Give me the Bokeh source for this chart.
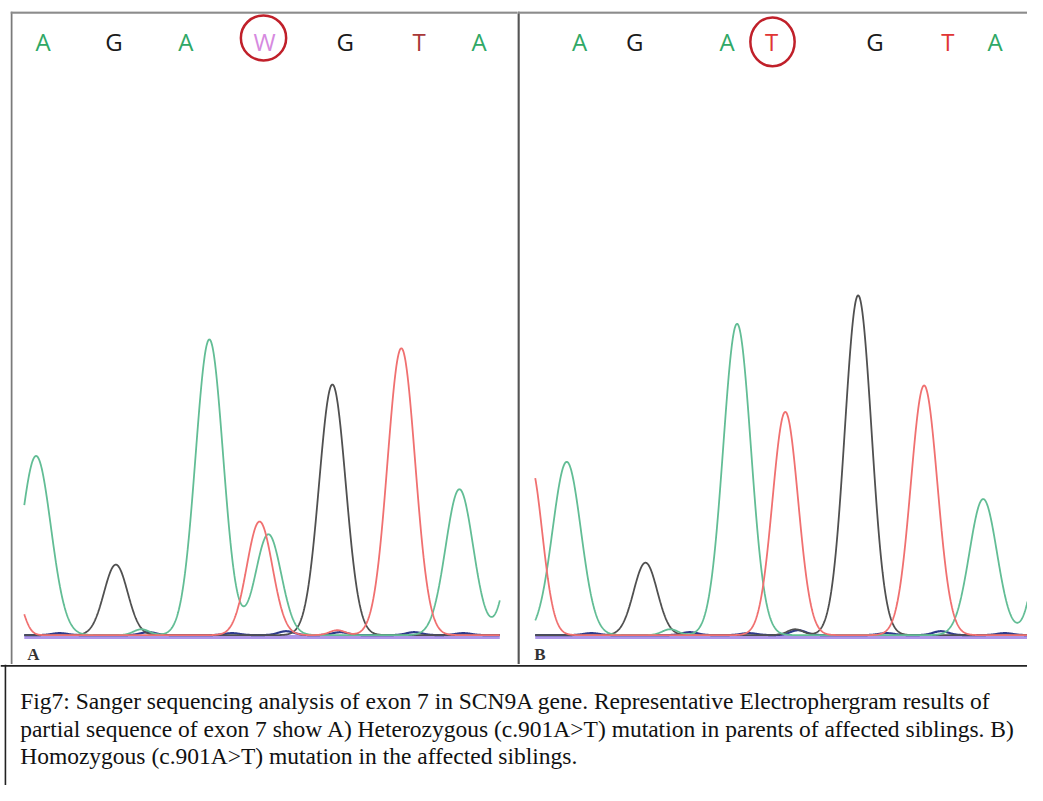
import numpy as np
from bokeh.plotting import figure
from bokeh.layouts import column, row
from bokeh.models import Range1d, Span
from bokeh.core.properties import value
from bokeh.embed import file_html
from bokeh.resources import INLINE

# ---------------- data ----------------
# Panel A: heterozygous parent. Peaks per dye: scan position, signal height, peak sd
A_scan = [24, 507]
A_green_pos = [36, 143, 212, 272, 466, 530]
A_green_hgt = [183, 6, 302, 103, 149, 160]
A_green_sd = [15, 8, 14, 13, 14, 13]
A_red_pos = [15, 263, 342, 407]
A_red_hgt = [40, 116, 5, 293]
A_red_sd = [8, 13, 8, 14]
A_black_pos = [117, 337]
A_black_hgt = [72, 256]
A_black_sd = [12, 13.5]
A_blue_pos = [60, 150, 235, 290, 345, 420, 470]
A_blue_hgt = [2, 3, 2, 4, 3, 3, 2]
A_blue_sd = [8, 8, 8, 8, 8, 8, 8]
A_bases = ["A", "G", "A", "W", "G", "T", "A"]
A_base_pos = [43, 115, 188, 268, 350, 425, 486]
A_mut_pos = 267

# Panel B: homozygous affected sibling
B_scan = [543, 1043]
B_green_pos = [575, 680, 748, 998, 1070]
B_green_hgt = [177, 6, 318, 139, 215]
B_green_sd = [14.4, 8, 14, 14, 14]
B_red_pos = [538, 797, 938]
B_red_hgt = [175, 228, 255]
B_red_sd = [12, 13, 13.5]
B_black_pos = [655, 807, 871]
B_black_hgt = [74, 6, 347]
B_black_sd = [12, 8, 13.5]
B_blue_pos = [600, 700, 760, 810, 900, 955, 1020]
B_blue_hgt = [2, 3, 2, 5, 2, 4, 2]
B_blue_sd = [8, 8, 8, 8, 8, 8, 8]
B_bases = ["A", "G", "A", "T", "G", "T", "A"]
B_base_pos = [588, 644, 738, 783, 888, 962, 1010]
B_mut_pos = 784

caption_lines = [
    "Fig7: Sanger sequencing analysis of exon 7 in SCN9A gene. Representative Electrophergram results of",
    "partial sequence of exon 7 show A) Heterozygous (c.901A>T) mutation in parents of affected siblings. B)",
    "Homozygous (c.901A>T) mutation in the affected siblings.",
]

# ---------------- styles ----------------
TRACE = {"green": "#62bd95", "red": "#f07070", "black": "#505050", "blue": "#2e3a8c"}
LETTER_A = {"A": "#2fa866", "G": "#1a1a1a", "T": "#a83838", "W": "#d68ae0"}
LETTER_B = {"A": "#2fa866", "G": "#1a1a1a", "T": "#e03535", "W": "#d68ae0"}
CIRCLE = "#c0202a"


def trace(xs, pos, hgt, sd):
    xs = np.asarray(xs, dtype=float)
    y = np.zeros_like(xs)
    for c, h, s in zip(pos, hgt, sd):
        y += h * np.exp(-((xs - c) ** 2) / (2.0 * s * s))
    return y


def panel(width, xr, min_left):
    p = figure(width=width, height=664, x_range=Range1d(*xr), y_range=Range1d(-30, 637),
               output_backend="svg", toolbar_location=None,
               x_axis_location=None, y_axis_location=None,
               min_border_left=min_left, min_border_right=0,
               min_border_top=11, min_border_bottom=0)
    p.grid.visible = False
    p.outline_line_color = None
    p.background_fill_color = "white"
    p.border_fill_color = "white"
    return p


def draw(p, scan, chans, bases, base_pos, letter_cols, mut_pos, mut_y, mut_w, mut_h, label, label_x):
    xs = np.linspace(scan[0], scan[1], 1200)
    p.line([scan[0], scan[1]], [-2, -2], line_color="#a58be6", line_width=4, line_alpha=0.9)
    for name in ["blue", "black", "green", "red"]:
        pos, hgt, sd = chans[name]
        lw = 2.2 if name == "blue" else 1.8
        p.line(xs, trace(xs, pos, hgt, sd), line_color=TRACE[name], line_width=lw)
    p.text(x=base_pos, y=[606] * len(bases), text=bases,
           text_color=[letter_cols[b] for b in bases],
           text_font=value("Open Sans"), text_font_size="24px",
           text_align="center", text_baseline="middle")
    p.ellipse(x=[mut_pos], y=[mut_y], width=[mut_w], height=[mut_h],
              fill_color=None, line_color=CIRCLE, line_width=2.5)
    p.text(x=[label_x], y=[-20], text=[label], text_color="#333333",
           text_font=value("Liberation Serif"), text_font_size="17px", text_font_style="bold",
           text_align="left", text_baseline="middle")


pA = panel(517, (10, 525), 10)
draw(pA, A_scan,
     {"green": (A_green_pos, A_green_hgt, A_green_sd), "red": (A_red_pos, A_red_hgt, A_red_sd),
      "black": (A_black_pos, A_black_hgt, A_black_sd), "blue": (A_blue_pos, A_blue_hgt, A_blue_sd)},
     A_bases, A_base_pos, LETTER_A, A_mut_pos, 610, 46, 46, "A", 27)
pA.add_layout(Span(location=11, dimension="height", line_color="#7a7a7a", line_width=2))
pA.add_layout(Span(location=636, dimension="width", line_color="#8c8c8c", line_width=2.5))

pB = panel(510, (525, 1043), 0)
draw(pB, B_scan,
     {"green": (B_green_pos, B_green_hgt, B_green_sd), "red": (B_red_pos, B_red_hgt, B_red_sd),
      "black": (B_black_pos, B_black_hgt, B_black_sd), "blue": (B_blue_pos, B_blue_hgt, B_blue_sd)},
     B_bases, B_base_pos, LETTER_B, B_mut_pos, 606, 45, 50, "B", 542)
pB.add_layout(Span(location=526, dimension="height", line_color="#555555", line_width=2.5))
pB.add_layout(Span(location=636, dimension="width", line_color="#8c8c8c", line_width=2.5))

cap = figure(width=1027, height=121, x_range=Range1d(0, 1043), y_range=Range1d(801, 677.6),
             output_backend="svg", toolbar_location=None,
             x_axis_location=None, y_axis_location=None, min_border=0)
cap.grid.visible = False
cap.outline_line_color = None
cap.add_layout(Span(location=679, dimension="width", line_color="#222222", line_width=1.6))
cap.add_layout(Span(location=5, dimension="height", line_color="#222222", line_width=1.6))
cap.text(x=[20] * 3, y=[715, 743, 771], text=caption_lines, text_color="#111111",
         text_font=value("Liberation Serif"), text_font_size="23.5px",
         text_align="left", text_baseline="middle")

layout = column(row(pA, pB), cap)
open("out.html", "w").write(file_html(layout, INLINE))
